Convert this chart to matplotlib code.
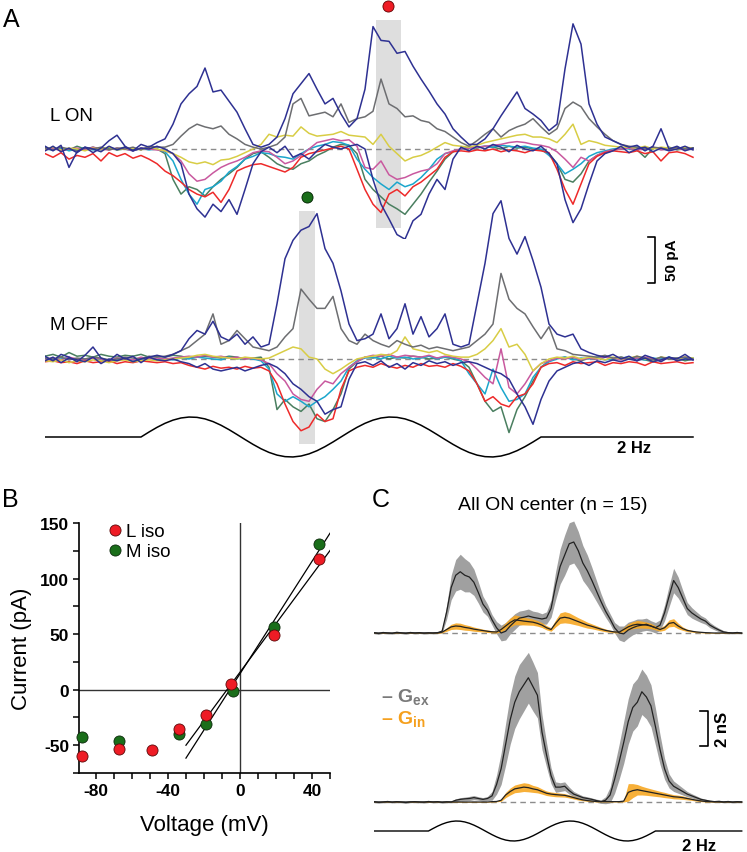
import numpy as np
import matplotlib
matplotlib.use('Agg')
import matplotlib.pyplot as plt
from matplotlib.lines import Line2D

plt.rcParams['font.family'] = ['Liberation Sans', 'DejaVu Sans']
plt.rcParams['mathtext.fontset'] = 'custom'
plt.rcParams['mathtext.rm'] = 'Liberation Sans'
plt.rcParams['mathtext.bf'] = 'Liberation Sans:bold'

DT = 0.02      # s per sample
T_MAX = 1.63   # s shown

# ---------------- Panel A : whole-cell currents (pA) ----------------
lon_navy_out = [3,-2,4,-20,-3,2,-4,1,9,15,3,-2,5,2,7,
 11,27,49,60,68,88,62,64,52,40,22,5,
 2,5,13,33,60,71,82,65,49,55,38,24,
 33,65,133,118,117,104,106,90,76,63,49,38,22,13,5,
 5,11,22,36,49,62,44,38,31,20,27,87,136,114,49,27,13,9,5,
 2,4,-2,3,22,0,3,-2,1]
lon_navy_in = [-2,3,-3,1,-4,2,0,-3,3,-1,2,-2,1,0,3,
 0,-5,-16,-49,-65,-74,-60,-68,-55,-71,-44,-16,-3,
 2,-4,3,-9,-5,-11,-2,5,2,0,3,5,
 0,-33,-60,-76,-93,-98,-78,-71,-49,-33,-44,-11,2,
 -2,3,0,5,2,-3,4,0,-2,3,-5,
 -16,-55,-80,-65,-38,-13,-5,
 -2,3,-4,0,2,-3,1,-2,0,3,-1]
lon_gray = [1,-1,2,0,-2,1,0,2,-1,1,0,2,-1,3,2,
 2,5,14,22,27,24,22,25,16,11,5,2,0,
 2,5,13,49,55,36,38,40,35,49,29,33,
 35,41,76,49,44,35,36,31,29,22,19,13,7,
 3,9,16,22,13,20,24,27,33,24,16,
 22,44,51,46,33,24,16,9,5,
 3,2,0,2,1,-1,2,0,1]
lon_yellow = [0,2,-1,1,0,-2,1,0,2,-1,0,1,-1,2,0,
 -2,-5,-9,-14,-16,-14,-17,-12,-11,-8,-4,0,5,
 16,13,15,14,24,17,14,15,16,19,15,14,
 13,5,16,3,-5,-13,-9,-7,-3,2,7,4,3,
 2,4,7,9,11,13,15,16,13,13,11,
 7,16,27,5,9,7,4,3,2,
 2,1,3,0,2,1,0,2,1]
lon_magenta = [-1,1,-2,0,1,-1,2,0,-1,1,0,-2,1,0,-1,
 -2,-5,-13,-27,-35,-33,-26,-20,-16,-13,-9,-4,-2,
 -3,-9,-16,-13,-7,0,7,9,11,9,10,3,
 -20,-22,-13,-28,-33,-31,-27,-24,-22,-16,-5,-2,0,
 1,2,3,4,5,7,8,7,5,4,2,
 -3,-11,-20,-9,-13,-7,-3,-1,0,
 1,-1,0,2,-1,0,1,-1,0]
lon_cyan = [0,-1,1,-2,0,1,-1,0,2,-1,0,-2,1,-1,0,
 -3,-13,-33,-49,-60,-44,-41,-35,-25,-19,-11,-8,-4,
 -5,-8,-9,-11,-5,0,3,5,8,7,4,-11,
 -22,-31,-38,-44,-36,-41,-38,-31,-22,-11,-5,-3,0,
 1,2,3,2,4,3,2,3,1,0,-7,
 -16,-27,-22,-16,-8,-4,-2,0,1,
 0,2,-1,1,0,-1,2,0,1]
lon_green = [2,0,1,-1,3,0,2,-1,1,0,2,-1,0,1,0,
 -5,-33,-49,-41,-44,-51,-41,-33,-27,-20,-11,-5,-3,
 -9,-16,-20,-22,-16,-13,-7,-3,2,5,4,-5,
 -33,-44,-52,-60,-65,-71,-60,-49,-36,-24,-11,-3,0,
 2,1,3,2,0,3,1,2,0,-1,-5,
 -16,-33,-36,-27,-13,-7,-3,-1,0,
 2,-1,-9,1,0,2,-1,1,0]
lon_red = [-5,-9,-4,-11,-7,-9,-5,-13,-4,-8,-5,-10,-7,-11,-16,
 -24,-29,-36,-44,-49,-52,-47,-58,-44,-24,-20,-17,-16,
 -19,-22,-25,-20,-9,-5,-3,-1,1,3,0,-22,
 -44,-60,-69,-49,-44,-51,-41,-36,-29,-22,-9,-3,-2,
 -3,-1,-2,0,-3,-1,-2,-4,-1,-2,-4,
 -22,-44,-60,-38,-16,-8,-4,-2,-3,
 -4,-2,-5,-3,-13,-4,-3,-5,-9]

moff_navy_out = [3,-2,5,2,-3,4,13,1,-2,5,0,3,-4,2,4,
 2,5,9,22,31,27,41,
 24,20,27,16,24,13,16,60,
 109,129,140,144,158,120,104,74,38,20,
 22,27,49,22,33,60,27,46,24,33,49,16,13,
 16,60,104,158,172,131,114,133,107,78,38,
 27,24,27,11,7,4,2,5,
 0,3,-2,4,1,-3,2,0,5,-1]
moff_navy_in = [-2,2,-4,1,-1,-3,2,-5,0,-2,1,-3,0,2,-1,
 -2,0,-3,-5,-9,-5,-11,-13,-11,-9,-13,-10,-7,-5,-9,
 -16,-27,-33,-41,-46,-60,-55,-52,-22,-5,
 -3,-7,-2,-9,-5,-11,-4,-7,-2,-5,-3,-7,-4,
 -3,-5,-9,-13,-16,-22,-38,-52,-71,-44,-24,
 -13,-9,-5,-3,-7,-2,-4,-1,-3,0,-2,1,-3,-1,2,-2,0,-1]
moff_gray = [1,0,2,-1,1,0,2,1,-1,0,2,1,0,3,2,
 3,5,9,13,20,27,49,16,20,31,22,13,11,9,13,
 24,33,76,65,55,55,68,33,20,16,
 27,20,16,13,20,16,13,15,11,13,11,9,11,
 13,20,27,38,93,65,55,49,35,22,35,
 11,9,5,4,3,2,4,1,2,0,3,1,-1,2,0,1,2,0]
moff_yellow = [-2,-3,-1,-4,-2,-3,-1,-2,-4,-2,-1,-3,-2,-1,-2,
 -1,0,1,2,4,5,3,2,1,0,2,1,0,1,5,
 9,13,11,2,0,-11,-16,-11,-5,0,
 2,3,5,4,9,24,11,9,7,9,5,3,2,
 2,5,11,20,33,13,16,5,-13,-5,0,
 2,1,3,0,2,1,-1,2,0,1,3,0,-1,2,1,0,2,1]
moff_magenta = [0,1,-1,2,0,-1,1,0,-2,1,0,-1,2,0,1,
 0,1,2,3,2,4,2,3,1,2,0,1,-1,-5,-16,
 -24,-38,-44,-46,-33,-24,-27,-16,-9,-3,
 2,4,3,5,2,4,3,2,4,1,3,2,0,
 -3,-11,-20,-27,11,-31,-38,-27,-13,-5,-2,
 1,0,2,-1,1,0,2,1,-1,0,1,2,0,-1,1,0,2,0]
moff_cyan = [1,-1,0,2,-2,0,1,-1,-3,0,1,-2,0,1,-1,
 0,-1,1,0,2,1,0,-1,2,0,1,0,-2,-11,-38,
 -46,-41,-46,-52,-46,-41,-33,-24,-9,-2,
 1,2,0,3,1,2,0,1,3,0,2,1,-2,
 -16,-27,-38,-11,-31,-46,-44,-38,-20,-9,-3,
 0,2,-1,1,0,2,-1,0,1,2,0,-1,1,0,2,-1,0,1]
moff_green = [3,5,2,7,3,4,2,5,3,2,4,3,5,2,3,
 2,4,3,1,2,3,2,1,3,2,0,1,2,-9,-55,
 -44,-52,-57,-49,-65,-68,-55,-38,-11,-3,
 2,1,3,0,2,1,3,2,0,1,2,0,-2,
 -9,-27,-46,-57,-52,-80,-55,-41,-24,-9,-2,
 1,2,0,-2,1,0,3,-1,2,0,1,-1,-3,2,0,1,-2,0]
moff_red = [-3,-2,-4,-3,-5,-2,-4,-3,-2,-5,-3,-4,-2,-3,-4,
 -3,-5,-4,-7,-9,-11,-8,-10,-9,-11,-8,-10,-9,-13,-27,
 -49,-68,-78,-74,-60,-68,-65,-33,-13,-9,
 -7,-9,-5,-8,-10,-7,-9,-5,-8,-7,-9,-5,-8,
 -13,-27,-46,-41,-49,-52,-41,-38,-27,-9,-5,
 -4,-7,-3,-5,-4,-3,-7,-4,-5,-3,-4,-7,-3,-5,-4,-3,-5,-4]

# stimulus (relative contrast), 2 Hz, two cycles
stim = [0,0,0,0,0,0,0,0,0,0,0,0,
 0,0.249,0.482,0.685,0.844,0.951,0.998,0.982,0.905,0.771,0.588,0.368,0.125,
 -0.125,-0.368,-0.588,-0.771,-0.905,-0.982,-0.998,-0.951,-0.844,-0.685,-0.482,-0.249,
 0,0.249,0.482,0.685,0.844,0.951,0.998,0.982,0.905,0.771,0.588,0.368,0.125,
 -0.125,-0.368,-0.588,-0.771,-0.905,-0.982,-0.998,-0.951,-0.844,-0.685,-0.482,-0.249,0,
 0,0,0,0,0,0,0,0,0,0,0,0,0,0,0,0,0,0,0]

# ---------------- Panel B : I-V ----------------
v_L = [-88, -67, -49, -34, -19, -5, 19, 44]
i_L = [-60, -53, -54, -35, -23, 5, 49, 118]
v_M = [-88, -67, -34, -19, -4, 19, 44]
i_M = [-43, -46, -40, -31, -1, 56, 131]
fit_v = [-30, 50]
fit_L = [2.19, 15.7]   # slope (pA/mV), intercept (pA)
fit_M = [2.53, 14.3]
xtick_vals = [-80, -40, 0, 40]
xtick_labels = ['-80', '-40', '0', '40']
ytick_vals = [-50, 0, 50, 100, 150]
ytick_labels = ['-50', '0', '50', '100', '150']

# ---------------- Panel C : conductances (nS) ----------------
gex_top = [0.02,-0.03,0.03,0.0,-0.02,0.04,0.01,-0.02,0.03,0.0,0.02,-0.01,0.01,0.0,0.02,
 0.1,1.2,2.6,3.3,3.5,3.3,3.2,2.9,2.3,1.65,1.3,0.75,0.3,
 0.0,0.1,0.4,0.65,0.85,0.9,0.97,0.9,0.85,0.8,0.86,
 1.4,2.7,3.8,4.45,5.1,5.2,4.7,4.0,3.55,3.0,2.4,1.8,1.25,0.8,0.3,
 0.0,-0.05,0.17,0.3,0.4,0.45,0.5,0.4,0.3,0.45,
 1.15,2.1,3.0,2.6,2.0,1.4,1.15,0.97,0.8,0.68,0.45,0.3,0.17,0.06,
 0.02,0.0,0.03,-0.01]
gex_top_sem = [0.05,0.05,0.05,0.05,0.05,0.05,0.05,0.05,0.05,0.05,0.05,0.05,0.05,0.05,0.05,
 0.1,0.4,0.7,0.9,1.0,0.95,0.85,0.75,0.6,0.45,0.35,0.3,0.35,
 0.45,0.5,0.45,0.45,0.4,0.4,0.4,0.35,0.35,0.3,0.35,
 0.5,0.8,1.0,1.15,1.2,1.2,1.1,1.0,0.9,0.75,0.6,0.45,0.35,0.3,0.3,
 0.4,0.45,0.45,0.4,0.4,0.35,0.35,0.3,0.3,0.3,
 0.45,0.6,0.7,0.6,0.45,0.35,0.3,0.25,0.2,0.18,0.15,0.12,0.1,0.08,
 0.06,0.05,0.05,0.05]
gin_top = [0,0,0,0,0,0,0,0,0,0,0,0,0,0,0,
 0.05,0.2,0.35,0.4,0.38,0.32,0.28,0.22,0.18,0.14,0.1,0.07,0.06,
 0.2,0.4,0.6,0.75,0.72,0.68,0.65,0.62,0.55,0.45,0.3,
 0.2,0.55,0.85,0.9,0.85,0.75,0.65,0.55,0.45,0.38,0.3,0.22,0.15,0.1,0.06,
 0.05,0.2,0.35,0.45,0.5,0.48,0.45,0.4,0.3,0.2,
 0.3,0.55,0.6,0.4,0.25,0.15,0.1,0.06,0.04,0.02,0.01,0,0,0,
 0,0,0,0]
gin_top_sem = [0.02,0.02,0.02,0.02,0.02,0.02,0.02,0.02,0.02,0.02,0.02,0.02,0.02,0.02,0.02,
 0.04,0.1,0.15,0.18,0.18,0.16,0.14,0.12,0.1,0.08,0.07,0.06,0.06,
 0.12,0.2,0.26,0.28,0.25,0.22,0.2,0.18,0.16,0.14,0.12,
 0.1,0.2,0.3,0.32,0.3,0.26,0.22,0.2,0.17,0.14,0.12,0.1,0.08,0.06,0.05,
 0.05,0.12,0.18,0.2,0.22,0.2,0.18,0.15,0.12,0.1,
 0.14,0.2,0.22,0.16,0.1,0.07,0.05,0.04,0.03,0.02,0.02,0.02,0.02,0.02,
 0.02,0.02,0.02,0.02]
gex_bot = [0.02,-0.02,0.0,0.03,-0.01,0.02,0.0,-0.03,0.01,0.02,0.0,-0.01,0.03,0.0,0.02,-0.02,0.01,0.0,
 0.1,0.15,0.18,0.2,0.25,0.2,0.15,0.2,0.35,
 1.0,1.9,3.3,4.7,5.7,6.3,6.7,7.1,6.6,6.1,4.0,2.7,1.5,0.85,
 0.85,0.9,0.65,0.45,0.35,0.25,0.2,0.15,0.08,0.02,0.1,
 0.4,1.3,2.3,3.4,4.6,5.4,5.7,6.3,6.0,5.5,4.3,3.0,1.9,1.2,0.9,
 0.75,0.6,0.45,0.35,0.25,0.15,0.1,0.05,0.02,0.04,0.0,0.03,-0.01,0.02,0.0]
gex_bot_sem = [0.05,0.05,0.05,0.05,0.05,0.05,0.05,0.05,0.05,0.05,0.05,0.05,0.05,0.05,0.05,0.05,0.05,0.05,
 0.08,0.1,0.1,0.12,0.12,0.1,0.1,0.12,0.25,
 0.55,0.9,1.2,1.4,1.5,1.55,1.5,1.45,1.4,1.3,1.0,0.7,0.45,0.3,
 0.25,0.25,0.2,0.15,0.12,0.1,0.1,0.08,0.08,0.1,0.2,
 0.45,0.8,1.0,1.2,1.3,1.35,1.35,1.3,1.25,1.2,1.05,0.85,0.6,0.4,0.3,
 0.25,0.2,0.15,0.12,0.1,0.08,0.06,0.05,0.05,0.05,0.05,0.05,0.05,0.05,0.05]
gin_bot = [0,0,0,0,0,0,0,0,0,0,0,0,0,0,0,0,0,0,0,0,0,0,0,0,0,0,
 0.02,0.03,
 0.1,0.4,0.6,0.75,0.8,0.85,0.82,0.75,0.7,0.6,0.5,0.45,0.42,0.4,0.38,0.32,0.25,0.18,0.12,0.08,0.05,
 0.03,0.02,0.02,0.02,0.02,0.02,0.05,
 0.55,0.65,0.7,0.65,0.6,0.55,0.5,0.45,0.4,0.35,0.3,0.28,0.25,0.2,0.15,0.1,0.06,
 0.03,0.02,0.01,0,0,0,0,0,0]
gin_bot_sem = [0.02,0.02,0.02,0.02,0.02,0.02,0.02,0.02,0.02,0.02,0.02,0.02,0.02,0.02,
 0.02,0.02,0.02,0.02,0.02,0.02,0.02,0.02,0.02,0.02,0.02,0.02,0.02,0.02,
 0.06,0.15,0.2,0.22,0.24,0.25,0.24,0.2,0.18,0.15,0.13,0.12,0.12,0.11,0.1,0.09,0.08,0.07,0.05,0.04,0.03,
 0.03,0.02,0.02,0.02,0.02,0.02,0.05,
 0.5,0.4,0.3,0.25,0.22,0.2,0.18,0.16,0.15,0.13,0.12,0.11,0.1,0.08,0.06,0.05,0.04,
 0.03,0.02,0.02,0.02,0.02,0.02,0.02,0.02,0.02]

# ---------------- colours ----------------
C_NAVY = '#2e3192'
C_GRAY = '#6d6e71'
C_YEL = '#d8cd45'
C_MAG = '#c9599f'
C_CYAN = '#1ba6cc'
C_GRN = '#4a7f60'
C_RED = '#ee2a2a'

W, H = 747, 853
fig = plt.figure(figsize=(W / 100, H / 100), dpi=100)


def box(x0, y0, x1, y1):
    return [x0 / W, 1 - y1 / H, (x1 - x0) / W, (y1 - y0) / H]


def tvec(series):
    return np.arange(len(series)) * DT


def draw_traces(ax, sets):
    for s, c in sets:
        ax.plot(tvec(s), s, color=c, lw=1.1, solid_joinstyle='round', zorder=3)


# ---- A: L ON ----
axL = fig.add_axes(box(45, 0, 697, 240))
axL.set_xlim(0, T_MAX)
axL.set_ylim(-97.8, 163.0)
axL.axis('off')
axL.fill_between([0.8275, 0.89], -86, 140, color='#dedede', lw=0, zorder=0)
axL.axhline(0, color='#8c8c8c', lw=1, ls=(0, (4, 3)), zorder=1)
draw_traces(axL, [(lon_green, C_GRN), (lon_cyan, C_CYAN), (lon_magenta, C_MAG),
                  (lon_red, C_RED), (lon_yellow, C_YEL), (lon_gray, C_GRAY),
                  (lon_navy_in, C_NAVY), (lon_navy_out, C_NAVY)])
axL.plot([0.8575], [155.4], 'o', ms=8, mfc='#ee1c25', mec='#600000', mew=0.6,
         clip_on=False, zorder=5)

# ---- A: M OFF ----
axM = fig.add_axes(box(45, 185, 697, 455))
axM.patch.set_alpha(0)
axM.set_xlim(0, T_MAX)
axM.set_ylim(-103.3, 190.2)
axM.axis('off')
axM.fill_between([0.635, 0.675], -92, 161, color='#dedede', lw=0, zorder=0)
axM.axhline(0, color='#8c8c8c', lw=1, ls=(0, (4, 3)), zorder=1)
draw_traces(axM, [(moff_green, C_GRN), (moff_cyan, C_CYAN), (moff_magenta, C_MAG),
                  (moff_red, C_RED), (moff_yellow, C_YEL), (moff_gray, C_GRAY),
                  (moff_navy_in, C_NAVY), (moff_navy_out, C_NAVY)])
axM.plot([0.655], [176], 'o', ms=8, mfc='#1a6e1a', mec='#002000', mew=0.6,
         clip_on=False, zorder=5)
# 50 pA scale bar
axM.plot([1.5075, 1.525, 1.525, 1.5075], [133, 133, 83, 83], color='black', lw=1.2,
         clip_on=False)
axM.text(1.567, 108, '50 pA', rotation=90, ha='center', va='center',
         fontsize=11, fontweight='bold')

# ---- A: stimulus ----
axS = fig.add_axes(box(45, 405, 697, 470))
axS.patch.set_alpha(0)
axS.set_xlim(0, T_MAX)
axS.set_ylim(-1.6, 1.65)
axS.axis('off')
axS.plot(tvec(stim), stim, color='black', lw=1.1)
axS.text(1.43, -0.55, '2 Hz', ha='left', va='center', fontsize=12, fontweight='bold')

fig.text(50 / W, 1 - 116.5 / H, 'L ON', fontsize=13.5, va='center', ha='left')
fig.text(50 / W, 1 - 325 / H, 'M OFF', fontsize=13.5, va='center', ha='left')
fig.text(3 / W, 1 - 8 / H, 'A', fontsize=18, va='top', ha='left')

# ---- B ----
axB = fig.add_axes(box(79, 524, 330, 774))
axB.set_xlim(-89.4, 50)
axB.set_ylim(-75, 150)
for sp in ['top', 'right']:
    axB.spines[sp].set_visible(False)
for sp in ['left', 'bottom']:
    axB.spines[sp].set_linewidth(1.2)
axB.axhline(0, color='#333333', lw=1, zorder=1)
axB.axvline(0, color='#333333', lw=1, zorder=1)
fv = np.array(fit_v, dtype=float)
axB.plot(fv, np.polyval(fit_M, fv), color='black', lw=0.9, zorder=2)
axB.plot(fv, np.polyval(fit_L, fv), color='black', lw=0.9, zorder=2)
axB.plot(v_M, i_M, 'o', ms=8, mfc='#1a6e1a', mec='#0d2a0d', mew=0.6, ls='none',
         zorder=4, clip_on=False)
axB.plot(v_L, i_L, 'o', ms=8, mfc='#ee1c25', mec='#5a0a0a', mew=0.6, ls='none',
         zorder=5, clip_on=False)
axB.set_xticks(xtick_vals)
axB.set_xticklabels(xtick_labels)
axB.set_xticks([v for v in range(-80, 51, 10) if v not in xtick_vals], minor=True)
axB.set_yticks(ytick_vals)
axB.set_yticklabels(ytick_labels)
axB.set_yticks([-75, -25, 25, 75, 125], minor=True)
axB.tick_params(which='both', direction='out', length=4, width=1.1, labelsize=12.5, pad=3)
for lab in axB.get_xticklabels() + axB.get_yticklabels():
    lab.set_fontweight('bold')
axB.set_xlabel('Voltage (mV)', fontsize=16, labelpad=12)
axB.set_ylabel('Current (pA)', fontsize=16, labelpad=6)
handles = [Line2D([], [], marker='o', ls='none', ms=8, mfc='#ee1c25', mec='#5a0a0a', mew=0.6),
           Line2D([], [], marker='o', ls='none', ms=8, mfc='#1a6e1a', mec='#0d2a0d', mew=0.6)]
axB.legend(handles, ['L iso', 'M iso'], loc='upper left', bbox_to_anchor=(0.115, 1.0),
           frameon=False, fontsize=13.5, handlelength=0.8, handletextpad=0.15,
           labelspacing=0.15, borderpad=0, borderaxespad=0)
fig.text(2 / W, 1 - 488 / H, 'B', fontsize=18, va='top', ha='left')

# ---- C ----
fig.text(372 / W, 1 - 488 / H, 'C', fontsize=18, va='top', ha='left')
fig.text(553 / W, 1 - 505 / H, 'All ON center (n = 15)', fontsize=14, ha='center', va='center')


def draw_cond(ax, gex, gex_s, gin, gin_s):
    tt = tvec(gex)
    ge, gs = np.array(gex), np.array(gex_s)
    gi, gis = np.array(gin), np.array(gin_s)
    ax.axhline(0, color='#8c8c8c', lw=1, ls=(0, (4, 3)), zorder=1)
    ax.fill_between(tt, ge - gs, ge + gs, color='#a0a0a0', lw=0, zorder=2)
    ax.fill_between(tt, gi - gis, gi + gis, color='#f7a823', alpha=0.9, lw=0, zorder=3)
    ax.plot(tt, gi, color='#222222', lw=0.9, zorder=4)
    ax.plot(tt, ge, color='#222222', lw=0.9, zorder=5)


axC1 = fig.add_axes(box(374, 515, 744, 655))
axC1.patch.set_alpha(0)
axC1.set_xlim(0, T_MAX)
axC1.set_ylim(-1.2, 6.8)
axC1.axis('off')
draw_cond(axC1, gex_top, gex_top_sem, gin_top, gin_top_sem)

axC2 = fig.add_axes(box(374, 640, 744, 815))
axC2.patch.set_alpha(0)
axC2.set_xlim(0, T_MAX)
axC2.set_ylim(-0.686, 9.314)
axC2.axis('off')
draw_cond(axC2, gex_bot, gex_bot_sem, gin_bot, gin_bot_sem)
axC2.plot([1.436, 1.471, 1.471, 1.436], [5.2, 5.2, 3.2, 3.2], color='black', lw=1.2,
          clip_on=False)
axC2.text(1.535, 4.2, '2 nS', rotation=90, ha='center', va='center', fontsize=12,
          fontweight='bold')

axCs = fig.add_axes(box(374, 812, 744, 853))
axCs.patch.set_alpha(0)
axCs.set_xlim(0, T_MAX)
axCs.set_ylim(-2.1, 2.0)
axCs.axis('off')
axCs.plot(tvec(stim), stim, color='black', lw=1.0)
axCs.text(1.357, -1.5, '2 Hz', ha='left', va='center', fontsize=12, fontweight='bold')

fig.text(381 / W, 1 - 697 / H, r'– $\mathbf{G_{ex}}$', color='#7a7a7a', fontsize=14,
         fontweight='bold', ha='left', va='center')
fig.text(381 / W, 1 - 719 / H, r'– $\mathbf{G_{in}}$', color='#f5a01e', fontsize=14,
         fontweight='bold', ha='left', va='center')

fig.savefig('out.png', dpi=100)
